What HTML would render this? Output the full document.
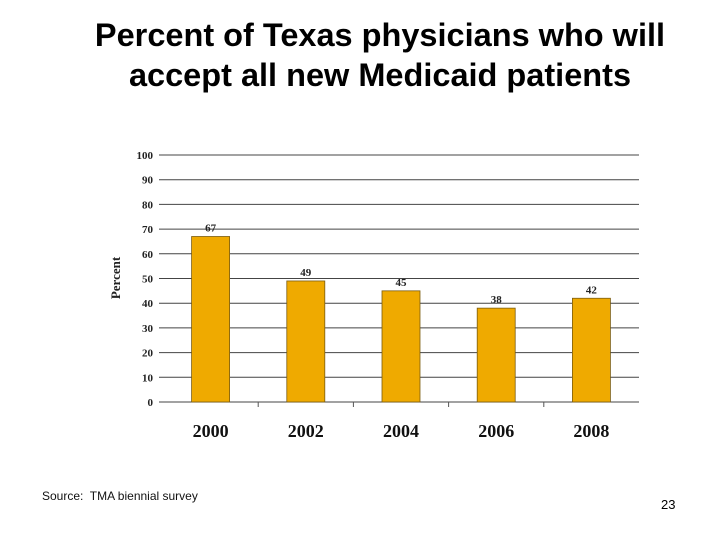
<!DOCTYPE html>
<html><head><meta charset="utf-8"><style>
body{margin:0;background:#fff;width:720px;height:540px;overflow:hidden;font-family:"Liberation Sans",sans-serif;}
#title{position:absolute;left:0;width:760px;top:15px;text-align:center;font-size:32.5px;font-weight:bold;line-height:40px;color:#000;}
#src{position:absolute;left:42px;top:489px;font-size:12px;color:#111;}
#pg{position:absolute;left:661px;top:497px;font-size:13px;}
svg{position:absolute;left:0;top:0}
</style></head><body>
<div id="title">Percent of Texas physicians who will<br>accept all new Medicaid patients</div>
<svg id="c" width="720" height="540"></svg>
<div id="src">Source:&nbsp; TMA biennial survey</div>
<div id="pg">23</div>
<script>
const categories=["2000","2002","2004","2006","2008"];
const values=[67,49,45,38,42];
const yTicks=[0,10,20,30,40,50,60,70,80,90,100];
const NS="http://www.w3.org/2000/svg",svg=document.getElementById('c');
const L=163,R=639,T=155,B=402,bw=(R-L)/categories.length;
const y=v=>B-(v/100)*(B-T);
function mk(t,a,txt){const e=document.createElementNS(NS,t);for(const k in a)e.setAttribute(k,a[k]);if(txt!=null)e.textContent=txt;svg.appendChild(e);return e;}
const serif='"Liberation Serif",serif';
yTicks.forEach(v=>{
 const g=mk('line',{x1:L-4,x2:R,y1:y(v),y2:y(v),stroke:'#444','stroke-width':1});
 
 
 const t=mk('text',{x:L-10,y:y(v)+4,'text-anchor':'end','font-family':serif,'font-size':11,'font-weight':'bold',fill:'#222'},v);
 
 
});
for(let i=1;i<categories.length;i++){const tk=mk('line',{x1:L+i*bw,x2:L+i*bw,y1:B,y2:B+5,stroke:'#555'});
 
 }
categories.forEach((c,i)=>{
 const cx=L+bw*(i+0.5),w=38;
 const r=mk('rect',{x:cx-w/2,y:y(values[i]),width:w,height:B-y(values[i]),fill:'#EFAA00',stroke:'#7a5c10','stroke-width':0.8});
 
 
 const vl=mk('text',{x:cx,y:y(values[i])-5,'text-anchor':'middle','font-family':serif,'font-size':11,'font-weight':'bold',fill:'#222'},values[i]);
 
 
 const xl=mk('text',{x:cx,y:437,'text-anchor':'middle','font-family':serif,'font-size':18,'font-weight':'bold',fill:'#111'},c);
 
 
});
const yt=mk('text',{x:0,y:0,transform:'translate(120,278) rotate(-90)','text-anchor':'middle','font-family':serif,'font-size':13,'font-weight':'bold',fill:'#222'},'Percent');


</script>
</body></html>
